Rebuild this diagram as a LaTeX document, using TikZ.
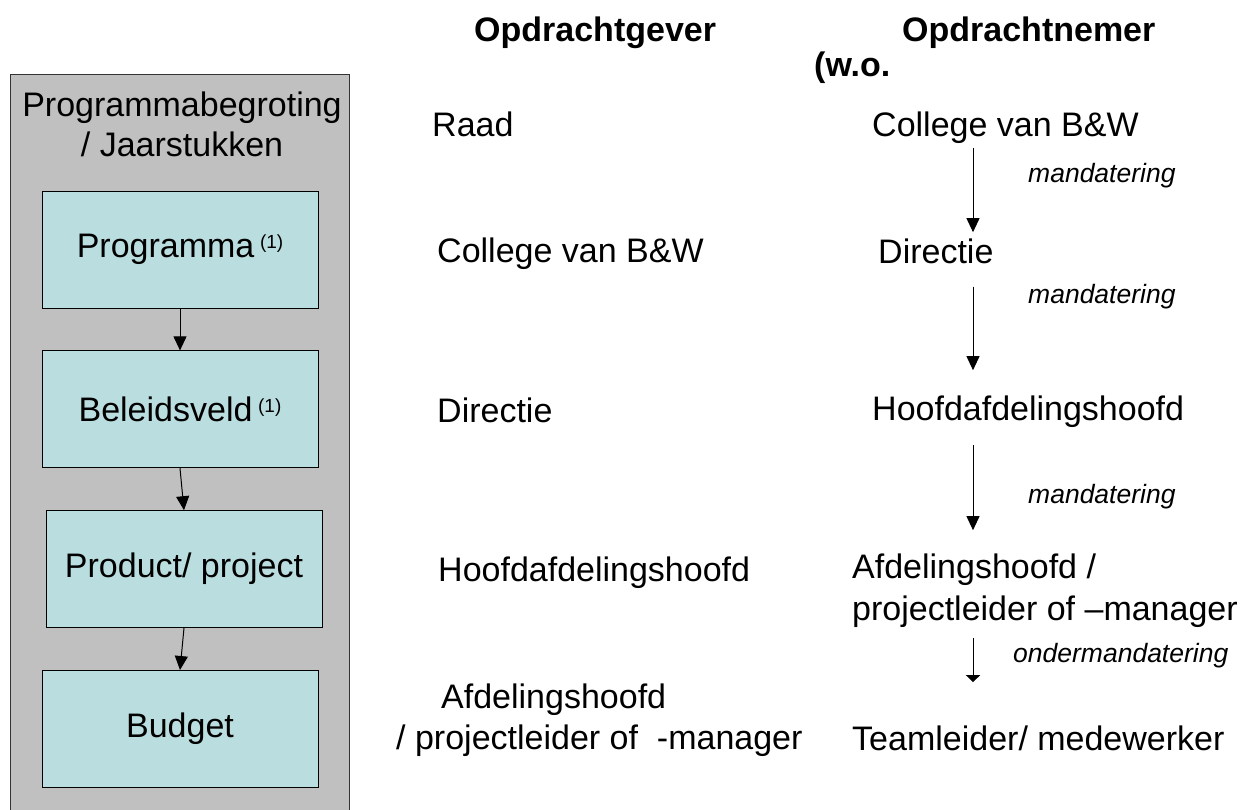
\documentclass[tikz,border=0pt]{standalone}
\usepackage{fontspec}
\setmainfont{Liberation Sans}
\usepackage{xcolor}
\usetikzlibrary{positioning,arrows.meta}

\definecolor{framegray}{HTML}{C0C0C0}
\definecolor{boxcyan}{HTML}{BADEE0}
\newcommand{\noot}{\,\raisebox{9pt}{\fontsize{19}{21}\selectfont(1)}}

\begin{document}
\begin{tikzpicture}[
    x=1pt, y=-1pt,
    node distance=42pt,
    txt/.style={font=\fontsize{34}{41}\selectfont, inner sep=0pt, anchor=base west},
    head/.style={txt, font=\bfseries\fontsize{34}{41}\selectfont},
    mand/.style={font=\itshape\fontsize{26.5}{30}\selectfont, inner sep=0pt, anchor=base west},
    frame/.style={draw=black!80, line width=0.8pt, fill=framegray, minimum width=339pt, minimum height=742pt},
    box/.style={draw, line width=0.8pt, fill=boxcyan, minimum width=276pt, minimum height=117pt, font=\fontsize{34}{41}\selectfont},
    arr/.style={-{Triangle[length=14pt, width=13pt]}, line width=1pt}
  ]
  \useasboundingbox (0,0) rectangle (1244,810);
  % begroting
  \node[frame] (begroting) at (179.5,445) {};
  \node[txt, anchor=base, align=center, font=\fontsize{34}{40}\selectfont] (titel) at (182,157) {Programmabegroting\\/ Jaarstukken};
  \node[box] (prog) at (180,249.5) {Programma\noot};
  \node[box, below=of prog] (beleid) {Beleidsveld\noot};
  \node[box, below=of beleid, xshift=4pt] (product) {Product/ project};
  \node[box, below=of product, xshift=-4pt] (budget) {Budget};
  \draw[arr] (prog.south) -- (beleid.north);
  \draw[arr] (beleid.south) -- (product.north);
  \draw[arr] (product.south) -- (budget.north);
  % opdrachtgever
  \node[head] (gever) at (474,42) {Opdrachtgever};
  \node[txt] (raad) at (432,137) {Raad};
  \node[txt] (cbwG) at (437,262) {College van B\&W};
  \node[txt] (dirG) at (437,422) {Directie};
  \node[txt] (hfdG) at (438,581) {Hoofdafdelingshoofd};
  \node[txt, align=left] (afdG) at (396,749) {\hspace*{45pt}Afdelingshoofd\\/ projectleider of\ \ -manager};
  % opdrachtnemer
  \node[head] (nemer) at (902,42) {Opdrachtnemer};
  \node[head] (wo) at (814,77) {(w.o.};
  \node[txt] (cbwN) at (872,137) {College van B\&W};
  \node[txt] (dirN) at (878,263) {Directie};
  \node[txt] (hfdN) at (872,420) {Hoofdafdelingshoofd};
  \node[txt, align=left, font=\fontsize{34}{42}\selectfont] (afdN) at (852,620) {Afdelingshoofd /\\projectleider of –manager};
  \node[txt] (teamN) at (852,750) {Teamleider/ medewerker};
  \node[mand] (m1) at (1028,183) {mandatering};
  \node[mand] (m2) at (1028,303) {mandatering};
  \node[mand] (m3) at (1028,503) {mandatering};
  \node[mand] (m4) at (1013,662) {ondermandatering};
  \coordinate (ax) at (973,0);
  \draw[arr, shorten <=4pt, shorten >=6pt] (cbwN.south -| ax) -- (dirN.north -| ax);
  \draw[arr, shorten <=23pt, shorten >=25pt] (dirN.south -| ax) -- (hfdN.north -| ax);
  \draw[arr, shorten <=18pt, shorten >=23pt] (hfdN.south -| ax) -- (afdN.north -| ax);
  \draw[-{Triangle[length=7pt, width=14pt]}, line width=1pt, shorten <=11pt, shorten >=43pt] (afdN.south -| ax) -- (teamN.north -| ax);
\end{tikzpicture}
\end{document}
